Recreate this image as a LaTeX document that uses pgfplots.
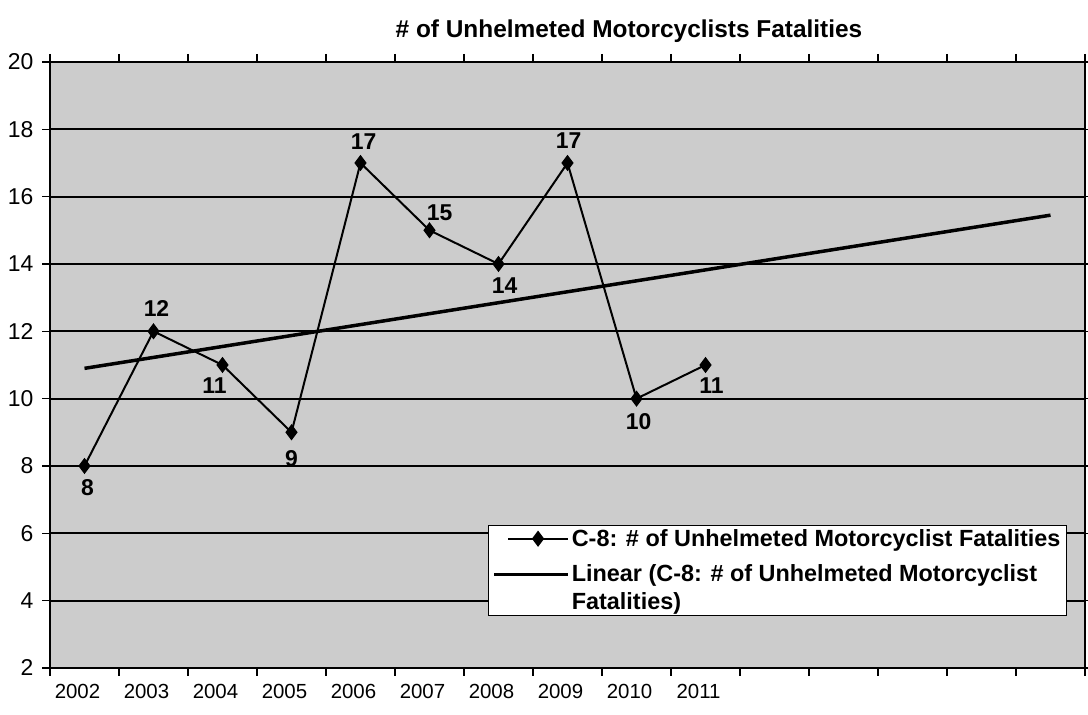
\documentclass[border=0pt]{standalone}
\usepackage{pgfplots}
\pgfplotsset{compat=1.18}
\usepackage{pgfplotstable}
\usepackage{fontspec}
\setmainfont{Liberation Sans}

\pgfplotstableread{
x y lab dx dy
1 8 8 3 -22
2 12 12 3 23
3 11 11 -8 -21
4 9 9 0 -26
5 17 17 3 21
6 15 15 10 18
7 14 14 6 -22
8 17 17 1 22
9 10 10 2 -23
10 11 11 6 -21
}\datatable

\pgfplotstableread{
x y
1 10.9
15 15.45
}\trendtable

\pgfplotsset{
  legA/.style={legend image code/.code={\path (0bp,0bp); \draw[mark repeat=2,mark phase=2,##1] plot coordinates {(14bp,0bp) (44bp,0bp) (74bp,0bp)};}},
  legB/.style={legend image code/.code={\draw[##1] (0bp,13.5bp) -- (74bp,13.5bp);}},
}

\begin{document}
\begin{tikzpicture}[x=1bp,y=1bp]
\useasboundingbox (0,0) rectangle (1088,715);
\node[font=\fontsize{24.5}{24.5}\selectfont\bfseries] at (629,684) {\# of Unhelmeted Motorcyclists Fatalities};
\begin{axis}[
  at={(50bp,47bp)}, anchor=south west,
  scale only axis, width=1035bp, height=606bp,
  xmin=0.5, xmax=15.5, ymin=2, ymax=20,
  ytick={2,4,...,20},
  xtick={0.5,1.5,...,15.5}, xticklabels={},
  extra x ticks={1,2,3,4,5,6,7,8,9,10},
  extra x tick labels={2002,2003,2004,2005,2006,2007,2008,2009,2010,2011},
  extra x tick style={major tick length=0pt, xticklabel style={yshift=-13bp, xshift=-7bp}},
  tick align=outside, major tick length=8bp,
  tick style={black, line width=1.6bp},
  ymajorgrids, grid style={black, line width=1.8bp},
  axis line style={black, line width=1.8bp},
  axis background/.style={fill=black!20},
  /pgf/number format/assume math mode=true,
  yticklabel style={font=\fontsize{23}{23}\selectfont, xshift=-5bp},
  xticklabel style={font=\fontsize{20.5}{20.5}\selectfont},
  clip=false,
  legend cell align=left,
  legend style={at={(0.423,0.236)}, anchor=north west, draw=black, line width=1bp,
    fill=white, font=\fontsize{23.5}{25}\selectfont\bfseries, row sep=13bp,
    inner xsep=4bp, inner ysep=2bp, cells={align=left}},
]
\addplot[black, line width=2bp, mark=diamond*, mark size=6.5bp, mark options={solid},
  nodes near coords, point meta=explicit symbolic,
  visualization depends on={\thisrow{dx} \as \dx},
  visualization depends on={\thisrow{dy} \as \dy},
  nodes near coords style={anchor=center, xshift=\dx*1bp, yshift=\dy*1bp,
    font=\fontsize{23}{23}\selectfont\bfseries, text=black, inner sep=0pt},
  legA
] table[x=x, y=y, meta=lab] {\datatable};
\addlegendentry{C-8: \# of Unhelmeted Motorcyclist Fatalities}
\addplot[black, line width=3.5bp, no marks, legB] table[x=x, y=y] {\trendtable};
\addlegendentry{Linear (C-8: \# of Unhelmeted Motorcyclist\\[3bp]Fatalities)}
\end{axis}
\end{tikzpicture}
\end{document}
